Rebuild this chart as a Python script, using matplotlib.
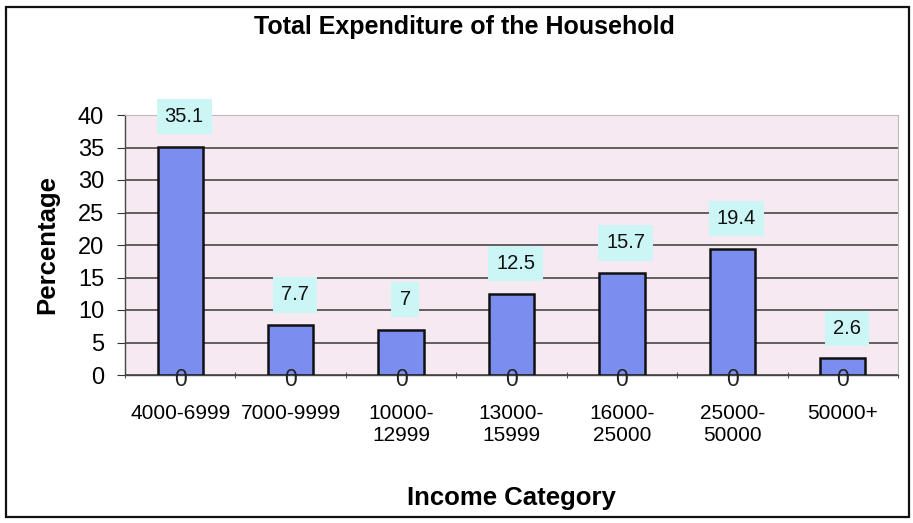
import matplotlib.pyplot as plt
import numpy as np

plt.rcParams["font.family"] = ["Liberation Sans", "DejaVu Sans"]

categories = ["4000-6999", "7000-9999", "10000-\n12999", "13000-\n15999",
              "16000-\n25000", "25000-\n50000", "50000+"]
percentage = [35.1, 7.7, 7, 12.5, 15.7, 19.4, 2.6]
zero_series = [0, 0, 0, 0, 0, 0, 0]

fig = plt.figure(figsize=(9.13, 5.23), dpi=100)
ax = fig.add_axes([125 / 913, 148 / 523, 773 / 913, 260 / 523])
ax.set_facecolor("#f7e9f2")

x = np.arange(len(categories))
ax.bar(x, percentage, width=0.41, color="#7b8ef0", edgecolor="#111111",
       linewidth=1.8, zorder=3)

# value labels above bars
for xi, v in zip(x, percentage):
    ax.annotate(f"{v:g}", (xi, v), xytext=(4, 30), textcoords="offset pixels",
                ha="center", va="center", fontsize=14.5, color="#111111",
                bbox=dict(boxstyle="square,pad=0.4", fc="#ccf6f6", ec="none"),
                zorder=5, annotation_clip=False)

# zero series labels sitting on the baseline
for xi, z in zip(x, zero_series):
    ax.annotate(f"{z:g}", (xi, z), xytext=(0, -4), textcoords="offset pixels",
                ha="center", va="center", fontsize=16.5, color="#222222",
                zorder=6, annotation_clip=False)

ax.set_xlim(-0.5, len(categories) - 0.5)
ax.set_ylim(0, 40)
ax.set_yticks(range(0, 41, 5))
ax.yaxis.grid(True, color="#3a3a3a", linewidth=1.1, zorder=1)
ax.set_axisbelow(True)

ax.set_xticks(x)
ax.set_xticklabels(categories, fontsize=15, linespacing=1.2)
ax.set_xticks(np.arange(-0.5, len(categories)), minor=True)
ax.tick_params(axis="x", which="major", length=0, pad=21)
ax.tick_params(axis="x", which="minor", length=5, direction="inout",
               color="#333333")
ax.tick_params(axis="y", labelsize=17, length=6, direction="out",
               color="#333333", pad=9)

for side in ["left", "bottom"]:
    ax.spines[side].set_color("#444444")
    ax.spines[side].set_linewidth(1.0)
for side in ["right", "top"]:
    ax.spines[side].set_color("#bbbbbb")
    ax.spines[side].set_linewidth(0.8)

ax.set_ylabel("Percentage", fontsize=18.5, fontweight="bold")
ax.yaxis.set_label_coords((59 - 125) / 773, 0.5)
fig.text(511 / 913, 1 - 498 / 523, "Income Category",
         ha="center", va="center", fontsize=18.5, fontweight="bold")
fig.text(464 / 913, 1 - 27 / 523,
         "Total Expenditure of the Household",
         ha="center", va="center", fontsize=18, fontweight="bold")

# outer chart frame
fig.patches.append(plt.Rectangle((6 / 913, 6 / 523), 903 / 913, 510 / 523,
                                 transform=fig.transFigure, fill=False,
                                 edgecolor="#111111", linewidth=1.6))

fig.savefig("out.png", dpi=100)
